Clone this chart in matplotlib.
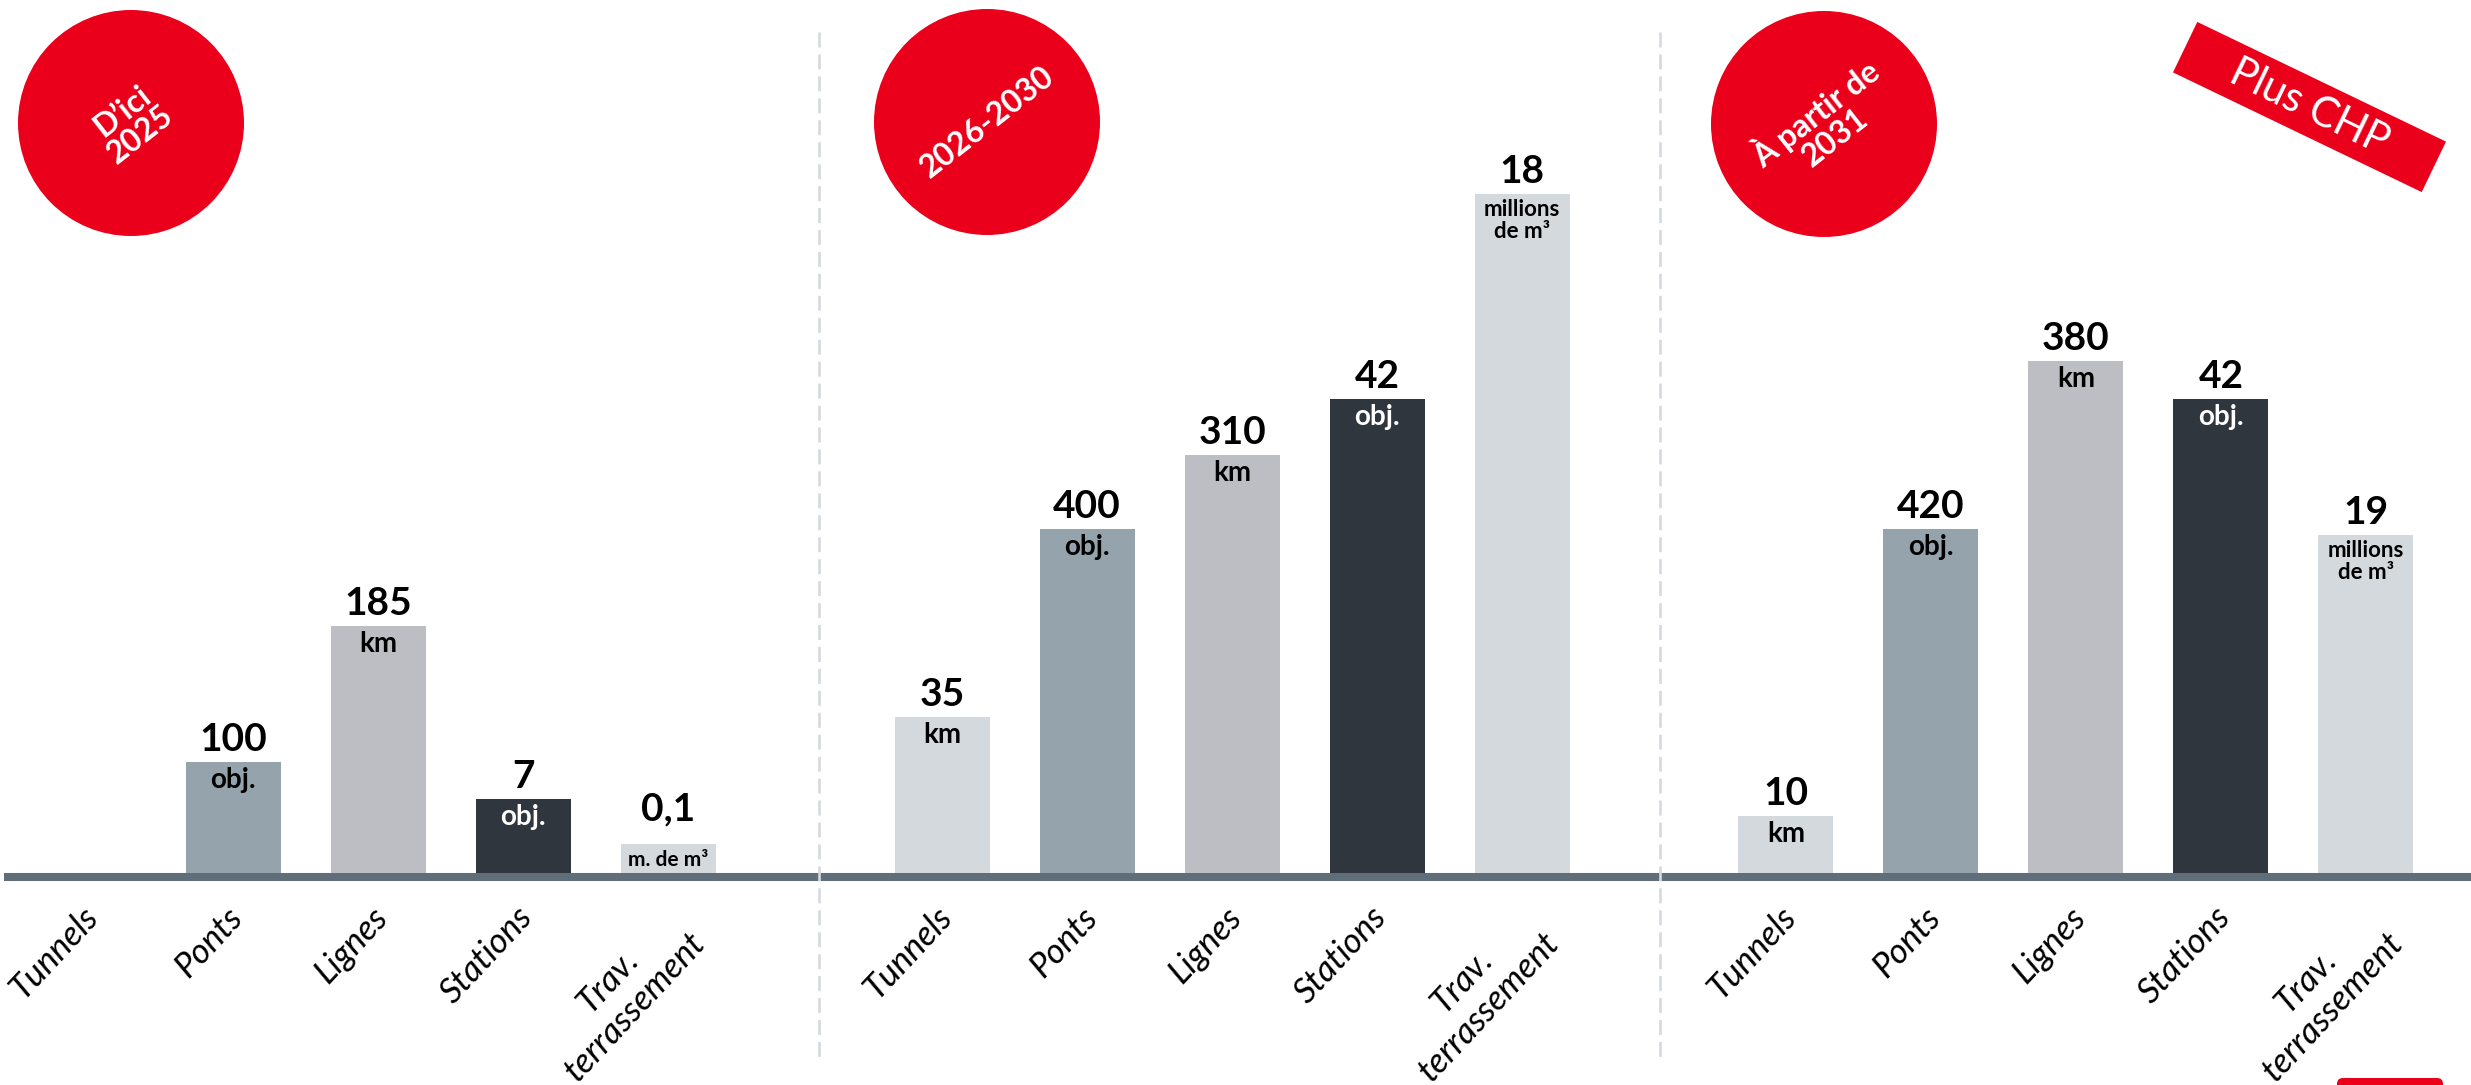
"""Grand chantier : tunnels, ponts, lignes, stations et terrassement par période."""
import matplotlib
matplotlib.use('Agg')
import matplotlib.pyplot as plt
import numpy as np
from matplotlib.patches import Circle, Polygon, FancyBboxPatch

plt.rcParams['font.family'] = ['Lato', 'DejaVu Sans']
plt.rcParams['lines.scale_dashes'] = False

# categories and periods
categories = ['Tunnels', 'Ponts', 'Lignes', 'Stations', 'Trav.\nterrassement']
periods = ['D’ici\n2025', '2026-2030', 'À partir de\n2031']

# labels shown above each bar
values_2025 = ['', '100', '185', '7', '0,1']
values_2030 = ['35', '400', '310', '42', '18']
values_2031 = ['10', '420', '380', '42', '19']

# units written inside each bar
units_2025 = ['', 'obj.', 'km', 'obj.', 'm. de m³']
units_2030 = ['km', 'obj.', 'km', 'obj.', 'millions\nde m³']
units_2031 = ['km', 'obj.', 'km', 'obj.', 'millions\nde m³']

# bar heights as drawn in the original (not to scale with the values)
heights_2025 = [0, 111, 247, 74, 29]
heights_2030 = [156, 344, 418, 474, 679]
heights_2031 = [57, 344, 512, 474, 338]

colors = ['#d3d9dd', '#95a3ad', '#bcbec4', '#30363d', '#d3d9dd']
red = '#eb001b'

W, H = 2471, 1085
base_y = 873          # pixel row of the bar baseline
step = 145            # pixels between bars
x0 = 88               # pixel centre of the first bar
offsets = [0, 5.89, 11.71]

fig = plt.figure(figsize=(W / 100, H / 100), dpi=100)

# pixel-space layer for decorations
deco = fig.add_axes([0, 0, 1, 1])
deco.set_xlim(0, W)
deco.set_ylim(H, 0)
deco.axis('off')

# data layer for bars
ax = fig.add_axes([0, 0, 1, 1])
ax.set_xlim(-x0 / step, (W - x0) / step)
ax.set_ylim(-(H - base_y), base_y)
ax.axis('off')

# baseline and separators
deco.plot([4, W], [base_y + 4, base_y + 4], color='#5f6e79', lw=5.8,
          solid_capstyle='butt')
for xs in [819, 1660]:
    deco.plot([xs, xs], [32, 1060], color='#d5dadf', lw=1.9, dashes=(10.8, 5))

groups = [(values_2025, units_2025, heights_2025),
          (values_2030, units_2030, heights_2030),
          (values_2031, units_2031, heights_2031)]

for g, (vals, units, hts) in enumerate(groups):
    x = offsets[g] + np.arange(len(categories))
    ax.bar(x, hts, width=95 / step, color=colors, zorder=2)
    for xi, v, u, h, c, cat in zip(x, vals, units, hts, colors, categories):
        small = h < 40
        if v:
            ax.text(xi, h + (18 if small else 5), v, ha='center', va='bottom',
                    fontsize=28, fontweight='bold', color='black', zorder=3)
        if u:
            ucol = 'white' if c == '#30363d' else 'black'
            if small:
                ax.text(xi, h / 2 - 1, u, ha='center', va='center', fontsize=15,
                        fontweight='bold', color=ucol, zorder=3)
            else:
                fs = 16 if '\n' in u else 20
                ax.text(xi, h - 5, u, ha='center', va='top', fontsize=fs,
                        fontweight='bold', color=ucol, linespacing=1.05,
                        zorder=3)
        ax.text(xi - 0.05, -28, cat, rotation=47, rotation_mode='anchor',
                ha='right', va='top', multialignment='center', fontsize=25,
                fontstyle='italic', color='black')

# period circles
circle_centres = [(131, 123), (987, 122), (1824, 124)]
for (cx, cy), label in zip(circle_centres, periods):
    deco.add_patch(Circle((cx, cy), 113, color=red, lw=0))
    deco.text(cx, cy, label, rotation=38, ha='center', va='center',
              multialignment='center', fontsize=23, fontweight='bold',
              color='white', linespacing=1.0)

# "Plus CHP" badge
bc = np.array([2309.5, 107])
ang = np.deg2rad(25.7)
u_vec = np.array([np.cos(ang), np.sin(ang)])
v_vec = np.array([-np.sin(ang), np.cos(ang)])
corners = [bc + sx * 138 * u_vec + sy * 28 * v_vec
           for sx, sy in [(-1, -1), (1, -1), (1, 1), (-1, 1)]]
deco.add_patch(Polygon(corners, closed=True, color=red, lw=0))
deco.text(bc[0], bc[1], 'Plus CHP', rotation=-25.7, ha='center', va='center',
          rotation_mode='anchor', fontsize=30, color='white')

# red tab at bottom right
deco.add_patch(FancyBboxPatch((2337, 1078), 106, 20,
                              boxstyle='round,pad=0,rounding_size=6',
                              color=red, lw=0, clip_on=False))

fig.savefig('out.png', dpi=100)
